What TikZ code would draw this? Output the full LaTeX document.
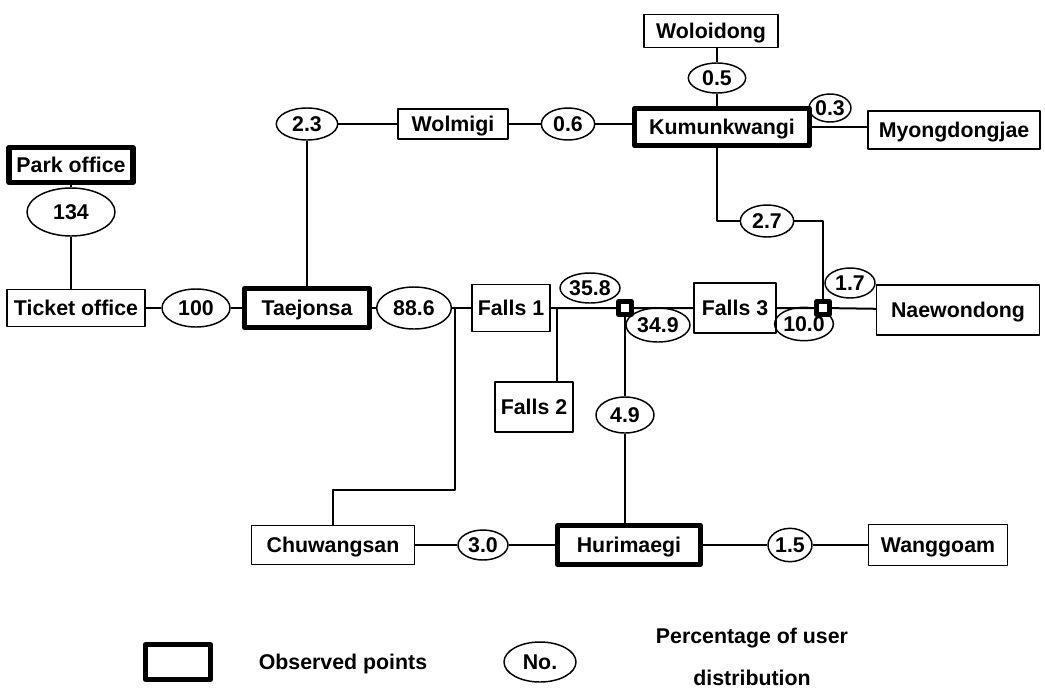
\documentclass[tikz,border=0pt]{standalone}
\usepackage{fontspec}
\setmainfont{Liberation Sans}
\usepackage{tikz}
\usetikzlibrary{shapes.geometric}
\tikzstyle{every node}=[font=\bfseries\fontsize{16}{19}\selectfont,text height=11.5pt,text depth=0pt]
\tikzstyle{spot}=[draw,line width=1.1pt,inner sep=0pt]
\tikzstyle{obs}=[draw,line width=3.8pt,inner sep=0pt]
\tikzstyle{pct}=[draw,ellipse,line width=1.1pt,inner sep=0pt]
\tikzstyle{jct}=[draw,line width=3.6pt,fill=white,minimum size=9.5pt,inner sep=0pt,text height=0pt,text depth=0pt]
\tikzstyle{road}=[line width=1.5pt]

\begin{document}
\begin{tikzpicture}[line join=round,x=0.75pt,y=-0.75pt]
\useasboundingbox (0,0) rectangle (1045,689);
% sites
\node[obs,minimum width=93pt,minimum height=26pt] (park) at (71,165) {Park office};
\node[spot,minimum width=103.5pt,minimum height=27.75pt] (ticket) at (76,308) {Ticket office};
\node[obs,minimum width=94pt,minimum height=29pt] (taejonsa) at (307,308) {Taejonsa};
\node[spot,minimum width=58.5pt,minimum height=35.25pt] (falls1) at (511,308) {Falls 1};
\node[spot,minimum width=58.5pt,minimum height=37.5pt] (falls2) at (534,407) {Falls 2};
\node[spot,minimum width=61.5pt,minimum height=37.5pt] (falls3) at (735,308) {Falls 3};
\node[spot,minimum width=122pt,minimum height=37.5pt] (naewon) at (958,310) {Naewondong};
\node[spot,minimum width=82.5pt,minimum height=22.5pt] (wolmigi) at (453,124) {Wolmigi};
\node[obs,minimum width=131pt,minimum height=28pt] (kumun) at (722,127) {Kumunkwangi};
\node[spot,minimum width=100.5pt,minimum height=24.75pt] (woloi) at (711,31) {Woloidong};
\node[spot,minimum width=129pt,minimum height=28.5pt] (myong) at (954,130) {Myongdongjae};
\node[spot,minimum width=122pt,minimum height=29pt] (chuwang) at (333,545) {Chuwangsan};
\node[obs,minimum width=107pt,minimum height=29pt] (hurim) at (629,545) {Hurimaegi};
\node[spot,minimum width=104pt,minimum height=31pt] (wangg) at (938,545) {Wanggoam};
% percentages
\node[pct,minimum width=66pt,minimum height=36pt] (p134) at (71,212) {134};
\node[pct,minimum width=51pt,minimum height=28.5pt] (p100) at (196,308) {100};
\node[pct,minimum width=56pt,minimum height=31.5pt] (p886) at (414,308) {88.6};
\node[pct,minimum width=45pt,minimum height=22.5pt] (p358) at (590,288) {35.8};
\node[pct,minimum width=48pt,minimum height=25.5pt] (p349) at (658,325) {34.9};
\node[pct,minimum width=43.5pt,minimum height=27pt] (p49) at (625,415) {4.9};
\node[pct,minimum width=40.5pt,minimum height=25pt] (p10) at (804,324) {10.0};
\node[pct,minimum width=37.5pt,minimum height=22.5pt] (p17) at (850,283) {1.7};
\node[pct,minimum width=40pt,minimum height=24pt] (p27) at (767,221) {2.7};
\node[pct,minimum width=46pt,minimum height=24pt] (p23) at (307,124) {2.3};
\node[pct,minimum width=40pt,minimum height=24pt] (p06) at (568,124) {0.6};
\node[pct,minimum width=43pt,minimum height=22.5pt] (p05) at (717,78) {0.5};
\node[pct,minimum width=28.5pt,minimum height=21pt] (p03) at (830,108) {0.3};
\node[pct,minimum width=37.5pt,minimum height=22.5pt] (p30) at (483,545) {3.0};
\node[pct,minimum width=33pt,minimum height=25pt] (p15) at (790,545) {1.5};
% corners and forks
\coordinate (fork) at (455,308);
\coordinate (bend) at (455,490);
\coordinate (f2) at (557,308);
% roads
\draw[road] (park) -- (p134);
\draw[road] (p134) -- (p134 |- ticket.north);
\draw[road] (ticket) -- (p100) -- (taejonsa) -- (p886) -- (falls1);
\draw[road] (fork) -- (bend) -| (chuwang);
\draw[road] (f2) -- (f2 |- falls2.north);
\draw[road] (p23) -- (taejonsa);
\draw[road] (p23) -- (wolmigi) -- (p06) -- (p06 -| kumun.west);
\draw[road] (p05) -- (p05 |- woloi.south);
\draw[road] (p05) -- (p05 |- kumun.north);
\draw[road] (kumun.east) -- (kumun.east -| myong.west);
\draw[road] (p05 |- kumun.south) |- (p27);
\draw[road] (chuwang) -- (p30) -- (hurim) -- (p15) -- (wangg);
% junctions
\node[jct] (j1) at (625,308) {};
\node[jct] (j2) at (823,308) {};
\draw[road] (falls1) -- (j1) -- (falls3) -- (j2) -- (naewon);
\draw[road] (p27) -| (j2);
\draw[road] (j1) -- (p49);
\draw[road] (p49) -- (p49 |- hurim.north);
% legend
\node[obs,minimum width=49pt,minimum height=26pt] (key) at (178,662) {};
\node (keytxt) at (343,662) {Observed points};
\node[pct,minimum width=54pt,minimum height=30pt] (keyno) at (540,662) {No.};
\node[align=center,text height=,text depth=] (keypct) at (752,657) {Percentage of user\\[12pt]distribution};
\end{tikzpicture}
\end{document}
